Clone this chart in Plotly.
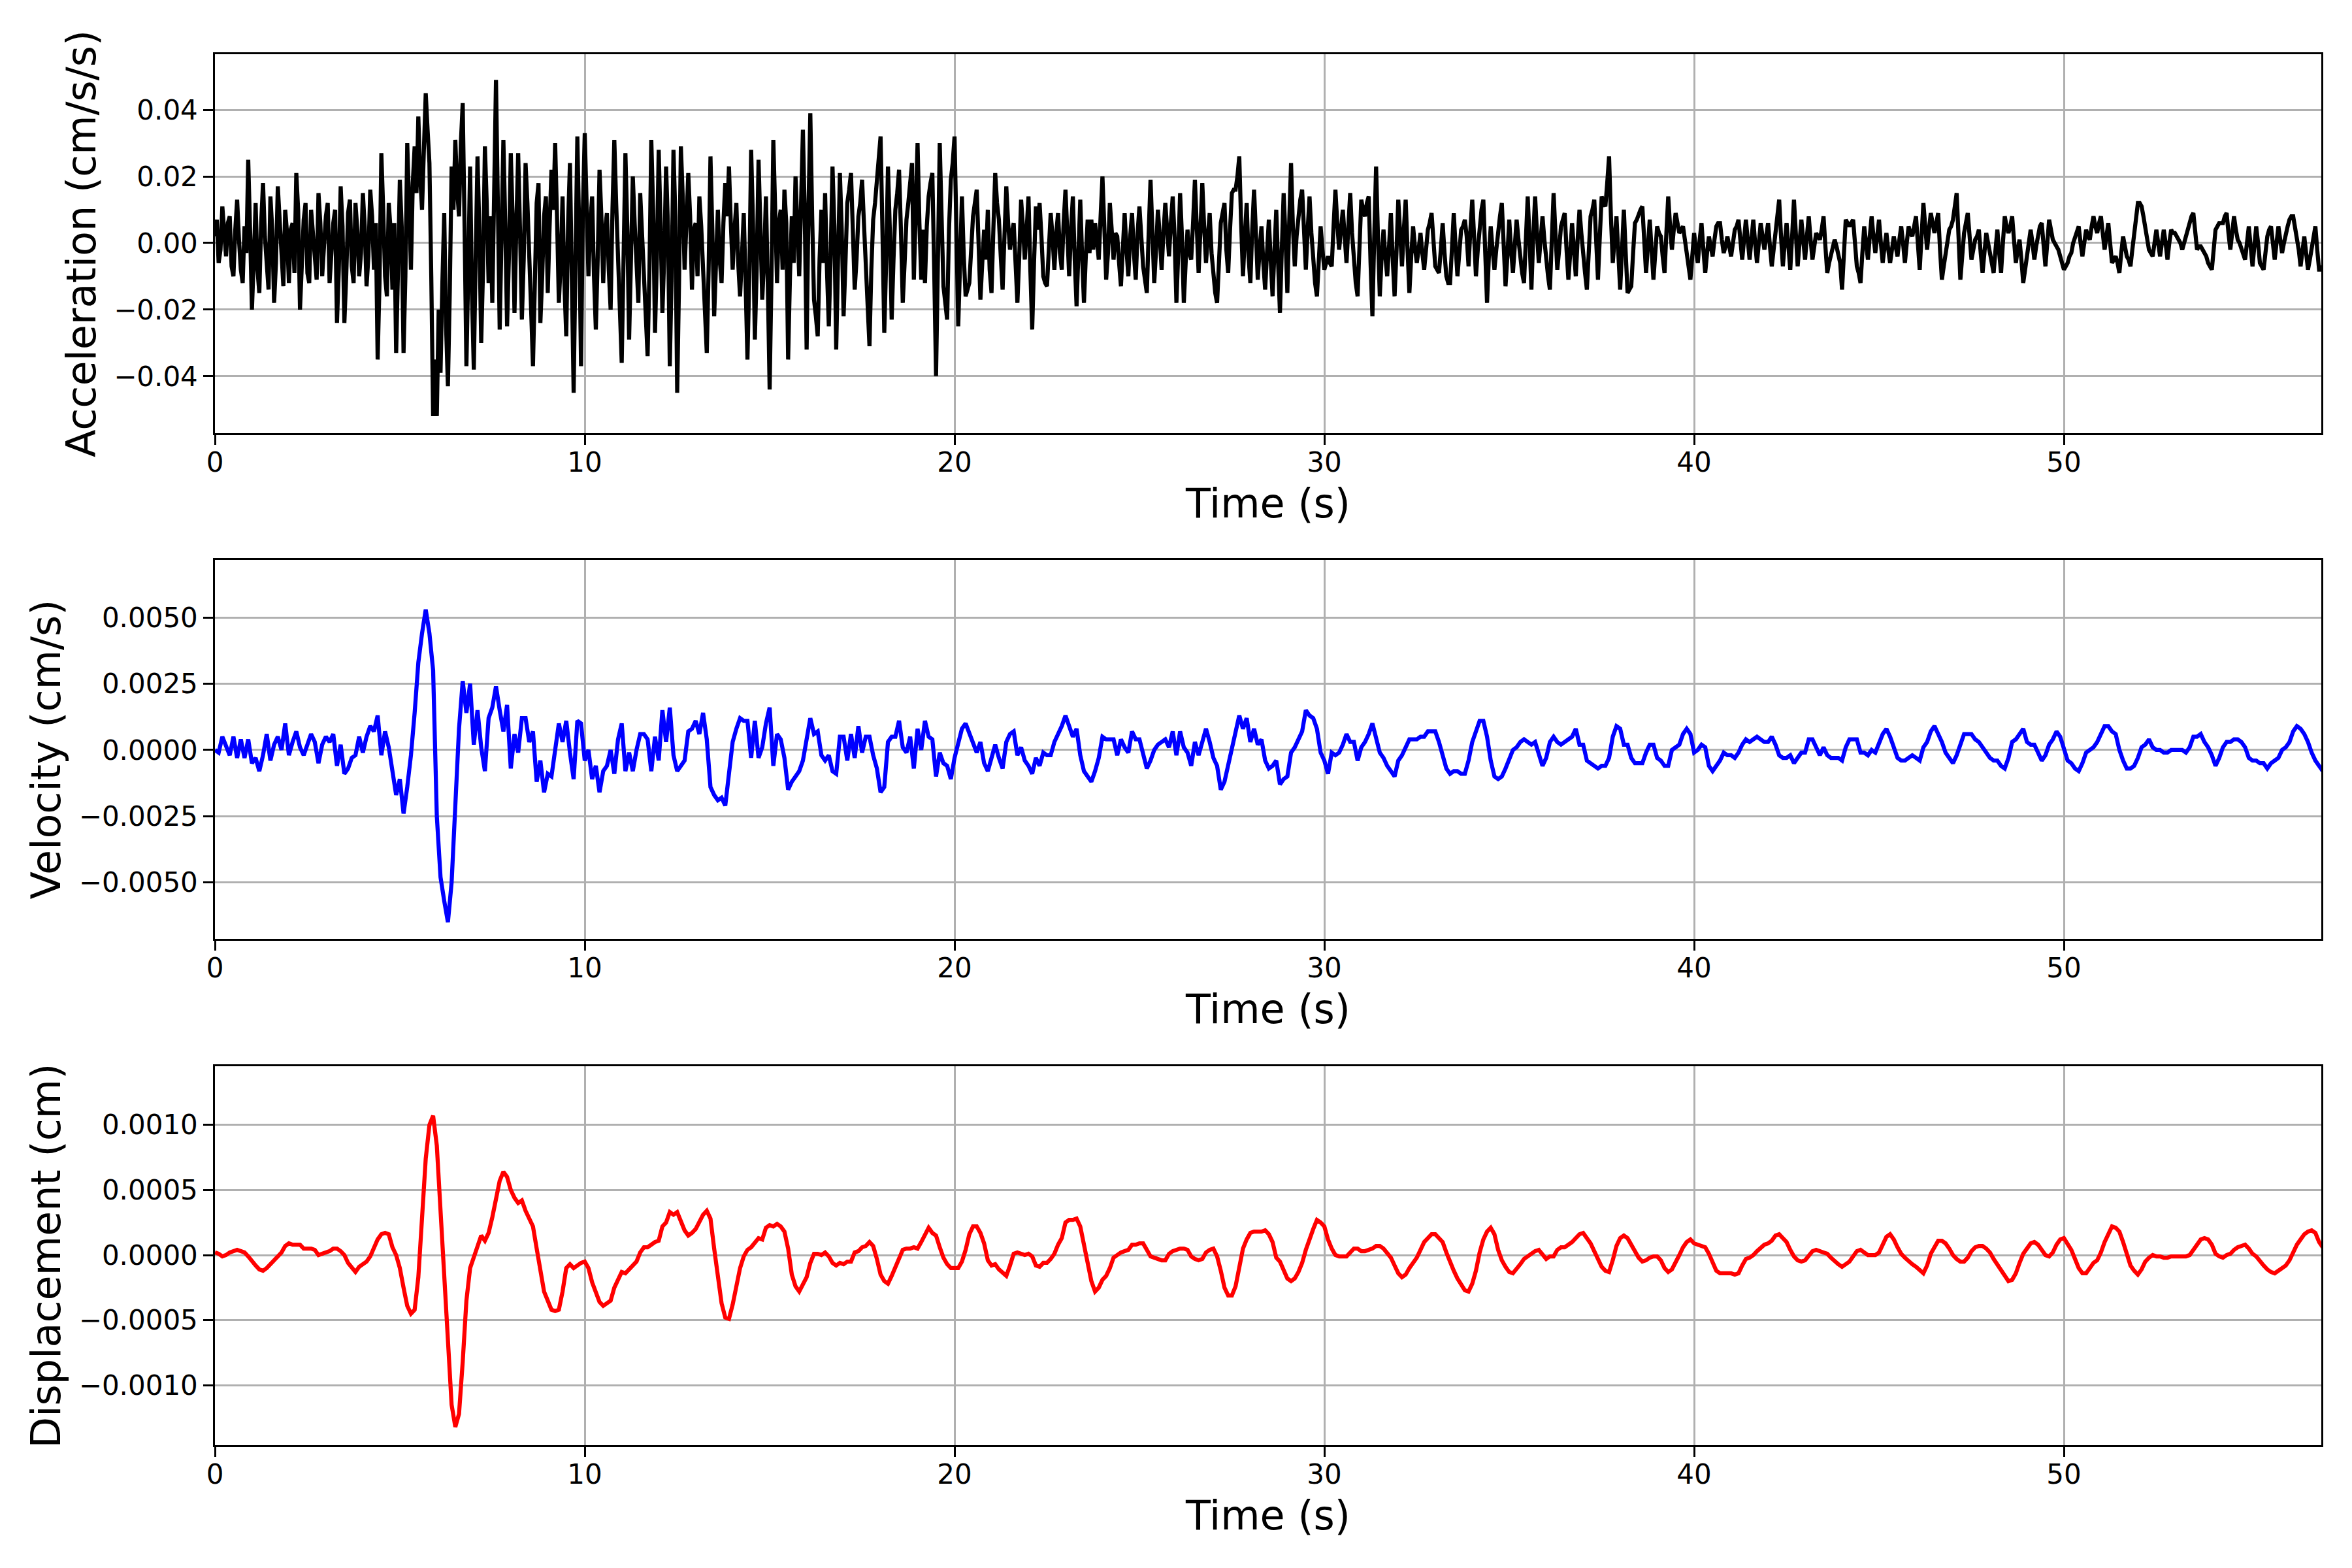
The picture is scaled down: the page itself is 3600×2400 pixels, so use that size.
import numpy as np
import plotly.graph_objects as go

# sampling steps of the traces (s)
DT_ACC = 0.05
DT = 0.1

# acceleration, in units of 0.001 cm/s/s, one row per second
acc_milli = [
    2, 7, -6, -2, 11, 3, -4, 6, 8, -7, -10, 4, 13, 1, -8, -12, 5, -3, 25, 4,
    -20, -5, 12, -8, -15, 6, 18, 2, -9, -14, 14, 4, -18, -6, 17, 5, -7, -13, 10, 3,
    -12, 4, 6, -9, 21, 10, -20, -4, 7, 12, -9, -12, 10, 3, -6, -11, 15, 6, -10, 2,
    8, 12, -12, -3, 6, 10, -24, -8, 17, 5, -24, -10, 9, 13, -7, -12, 12, 4, -10, -3,
    15, 5, -13, -4, 16, 8, -8, 6, -35, -12, 27, 10, -10, -16, 12, 4, -14, 6, -33, -8,
    19, 5, -33, -10, 30, 12, -8, 18, 29, 15, 38, 20, 10, 28, 45, 34, 24, -10, -52, -35,
    -52, -20, -39, -12, 9, -25, -43, -15, 23, 10, 31, 16, 8, 30, 42, 5, -37, -8, 23, -15,
    -38, -5, 26, 4, -30, -8, 29, 12, -12, 8, -18, 15, 49, 12, -26, 2, 31, 6, -25, -4,
    27, 8, -21, 5, 27, 4, -23, -5, 24, 12, -10, -20, -37, -15, 12, 18, -24, -10, 8, 14,
    -15, 5, 22, 10, 30, 8, -18, -6, 14, -12, -28, 6, 24, -10, -45, -5, 32, 4, -37, 10,
    33, 12, -10, 6, 14, -10, -26, -5, 22, 8, -12, 4, 9, -8, -20, 10, 31, 12, -8, -20,
    -36, -10, 27, 5, -29, -5, 20, 6, -10, -18, 15, 2, -14, -22, -34, -8, 31, 10, -27, -5,
    28, 6, -21, -4, 23, 5, -37, -10, 28, 8, -45, -12, 29, 14, -8, 6, 21, 8, -14, 4,
    6, -10, 14, 5, -10, -18, -33, -8, 26, 4, -22, -6, 10, -5, -12, 6, 18, 8, 23, 6,
    -8, 4, 12, -6, -16, -4, 9, -12, -35, -10, 28, 6, -29, -8, 25, 5, -17, -5, 14, -12,
    -44, -10, 31, 10, -12, 6, 10, -8, 16, 6, -35, -10, 8, -6, 20, 5, -10, 12, 34, 8,
    -32, 10, 39, 8, -17, -22, -28, -5, 10, -6, 15, -8, -25, -4, 23, 5, -32, -5, 21, 4,
    -22, -6, 12, 16, 21, 4, -14, -5, 8, 12, 19, 6, -6, -18, -31, -8, 7, 12, 18, 26,
    32, 4, -27, -6, 23, 4, -23, -5, 10, 15, 22, 4, -18, -6, 7, 12, 19, 24, -11, 8,
    30, 6, -11, 4, -12, 5, 14, 18, 21, -8, -40, -6, 30, 8, -13, -18, -23, 4, 19, 24,
    32, 5, -25, -6, 14, -4, -16, -14, -12, -2, 8, 12, 16, 0, -17, -6, 4, -5, 10, -8,
    -15, 4, 21, 12, 7, -4, -14, 2, 17, 6, -2, 3, 6, -6, -18, -4, 13, 5, -5, 4,
    14, -8, -26, -6, 11, 4, 12, 2, -10, -12, -13, -2, 9, 2, -8, 3, 9, -3, -8, 6,
    16, 3, -10, 4, 14, -5, -19, -3, 13, -4, -18, -4, 7, -3, 7, -2, 6, 1, -5, 8,
    20, 5, -11, -3, 12, 4, -5, 3, 2, -6, -13, -2, 9, -2, -10, 2, 9, -3, -11, 3,
    11, 2, -7, -11, -15, 3, 19, 4, -12, -2, 10, 2, -8, 3, 12, 4, -4, 6, 14, 2,
    -18, -3, 15, 2, -18, -6, 4, -3, -5, 6, 19, 5, -9, 4, 18, 5, -6, 2, 9, -3,
    -11, -15, -18, -4, 6, 9, 12, -2, -9, 4, 15, 16, 16, 20, 26, 6, -10, 2, 12, -4,
    -12, 4, 16, 3, -11, -2, 5, -6, -14, -3, 7, -5, -16, -3, 10, -6, -21, -2, 15, 2,
    -15, 6, 24, 5, -7, 2, 9, 13, 16, 3, -8, 4, 14, 3, -7, -12, -16, -4, 5, -2,
    -8, -6, -4, -6, -7, 5, 16, 6, -2, 4, 10, 2, -6, 5, 15, 3, -5, -12, -16, -2,
    13, 10, 8, 12, 14, -6, -22, 2, 23, 2, -16, -4, 4, -4, -10, -1, 9, -5, -16, -3,
    13, 3, -7, 4, 13, -2, -15, -4, 5, -1, -6, -2, 3, -3, -8, -2, 4, 6, 9, 1,
    -7, -8, -9, -2, 6, -3, -10, -12, -12, -2, 9, -1, -10, -3, 4, 5, 7, 2, -7, 4,
    13, 2, -10, -2, 6, 10, 13, -3, -18, -4, 5, -2, -8, -2, 4, 8, 12, -1, -13, -4,
    7, -2, -9, -1, 7, 1, -5, -9, -12, 2, 14, 1, -14, 2, 14, 3, -6, 1, 8, 1,
    -6, -10, -14, 2, 15, 3, -8, -2, 5, 7, 9, -2, -11, -3, 6, -2, -10, 1, 10, 3,
    -4, -9, -14, -2, 8, 10, 13, 1, -11, 2, 14, 12, 11, 18, 26, 8, -6, 1, 8, -3,
    -14, -2, 10, -3, -15, -14, -13, -3, 6, 7, 9, 10, 11, 1, -9, -1, 7, -2, -11, -3,
    5, 3, 2, -4, -9, 3, 14, 5, -2, 4, 9, 6, 3, 4, 5, 1, -4, -7, -11, -4,
    3, -2, -6, 1, 6, -2, -9, -3, 2, -1, -4, 1, 5, 6, 6, 1, -3, -1, 2, -1,
    -4, 0, 4, 5, 7, 1, -5, 1, 7, 1, -5, 1, 7, 0, -6, 0, 6, 2, -2, 2,
    6, -1, -7, -2, 3, 8, 13, 2, -7, 0, 6, -1, -8, 2, 13, 3, -7, 0, 7, 1,
    -5, 2, 8, 1, -5, -1, 3, 2, 1, 4, 8, -1, -9, -6, -4, -1, 1, -1, -3, -6,
    -14, -3, 7, 6, 5, 6, 7, 0, -7, -9, -12, -3, 5, 0, -5, 2, 8, 2, -3, 2,
    7, 0, -6, -1, 3, -2, -6, -2, 2, -1, -4, 1, 5, 0, -6, 0, 5, 3, 2, 5,
    8, 0, -8, 2, 12, 5, -2, 4, 9, 6, 3, 6, 9, -2, -11, -7, -3, 0, 4, 5,
    7, 11, 15, 2, -11, -4, 3, 6, 9, 2, -5, -2, 1, 2, 4, -3, -9, -3, 3, 0,
    -3, -6, -9, -2, 4, -3, -9, 0, 8, 5, 3, 5, 8, 1, -6, -2, 1, -5, -12, -8,
    -4, 0, 4, 0, -5, -1, 3, 5, 6, 0, -7, 0, 7, 4, 1, 0, -1, -2, -4, -6,
    -8, -7, -6, -4, -3, 0, 2, 3, 5, 0, -4, 0, 4, 2, 1, 5, 8, 5, 3, 6,
    8, 3, -2, 2, 6, 0, -6, -5, -4, -6, -9, -3, 2, -1, -4, -5, -7, -2, 3, 8,
    12, 12, 11, 8, 5, 2, -2, -3, -4, 0, 4, 0, -4, 0, 4, 0, -5, 0, 4, 3,
    3, 2, 1, 0, -2, 0, 3, 4, 6, 8, 9, 3, -2, -1, -1, -2, -3, -4, -6, -7,
    -8, -2, 4, 5, 6, 6, 6, 8, 9, 3, -2, 3, 8, 4, 1, 0, -2, -3, -5, 0,
    5, -1, -7, -1, 5, 0, -6, -7, -8, -3, 2, 4, 5, 0, -5, 0, 5, 1, -3, 0,
    3, 5, 7, 8, 8, 5, 2, -2, -7, -2, 2, -3, -8, -5, -2, 2, 5, -2, -8, -8,
    -7,
]

# velocity, in units of 0.0001 cm/s, one row per second
vel_e4 = [
    0, -1, 5, 1, -2, 5, -3, 4, -3, 4,
    -5, -3, -8, -2, 6, -4, 2, 5, 0, 10,
    -2, 3, 7, 1, -2, 2, 6, 3, -5, 2,
    5, 3, 6, -6, 2, -9, -7, -3, -2, 5,
    -1, 5, 9, 7, 13, -2, 7, 1, -9, -17,
    -11, -24, -14, -2, 14, 33, 44, 53, 44, 30,
    -25, -48, -57, -65, -50, -22, 8, 26, 14, 25,
    2, 15, 1, -8, 12, 16, 24, 15, 7, 17,
    -7, 6, -1, 12, 12, 3, 7, -12, -4, -16,
    -9, -10, 1, 10, 3, 11, -1, -11, 11, 10,
    -4, 0, -11, -6, -16, -8, -6, 0, -9, 4,
    10, -8, -1, -8, 0, 6, 6, 4, -8, 5,
    -4, 15, 3, 16, -2, -8, -6, -4, 7, 8,
    11, 6, 14, 4, -14, -17, -19, -18, -21, -10,
    3, 8, 12, 11, 11, -3, 11, -3, 1, 10,
    16, -6, 6, 4, -3, -15, -12, -10, -8, -4,
    5, 12, 6, 7, -2, -4, -2, -8, -9, 5,
    5, -4, 6, -3, 9, -1, 5, 5, -2, -7,
    -16, -14, 3, 5, 5, 11, 1, -1, 5, -7,
    8, 0, 11, 5, 4, -10, -1, -5, -6, -11,
    -3, 3, 8, 10, 6, 2, -1, 3, -5, -8,
    -3, 2, -3, -7, 3, 6, 7, -2, 1, -4,
    -6, -9, -3, -6, -1, -2, -2, 3, 6, 9,
    13, 9, 5, 8, -2, -8, -10, -12, -8, -3,
    5, 4, 4, 4, -2, 4, 1, -1, 7, 4,
    4, -2, -7, -4, 0, 2, 3, 4, 1, 7,
    -2, 7, 1, -1, -6, 3, -2, 3, 8, 3,
    -3, -6, -15, -12, -6, 0, 7, 13, 8, 12,
    3, 8, 2, 4, -4, -7, -6, -4, -13, -11,
    -10, -1, 1, 4, 7, 15, 13, 12, 8, -1,
    -4, -9, -1, -2, -1, 2, 6, 3, 3, -4,
    1, 3, 6, 10, 5, -1, -3, -6, -8, -10,
    -4, -2, 1, 4, 4, 4, 5, 5, 7, 7,
    7, 3, -2, -7, -9, -8, -8, -9, -9, -4,
    3, 7, 11, 11, 5, -4, -10, -11, -10, -7,
    -3, 0, 1, 3, 4, 3, 2, 3, -1, -6,
    -3, 3, 5, 3, 2, 3, 4, 5, 8, 2,
    2, -4, -5, -6, -7, -6, -6, -3, 5, 9,
    8, 2, 2, -3, -5, -5, -5, -1, 2, 2,
    -3, -4, -6, -6, 0, 1, 2, 6, 8, 6,
    -1, 0, 2, 1, -6, -8, -6, -4, -1, -2,
    -2, -3, -1, 2, 4, 3, 4, 5, 4, 3,
    3, 5, 2, -2, -3, -3, -2, -5, -3, -1,
    -1, 4, 4, 1, -2, 1, -2, -3, -3, -3,
    -4, 1, 4, 4, 4, -1, -1, -2, 0, -1,
    3, 6, 8, 5, 1, -3, -4, -4, -3, -2,
    -3, -4, 1, 3, 7, 9, 6, 3, -1, -3,
    -5, -2, 2, 6, 6, 6, 4, 3, 1, -1,
    -3, -4, -4, -6, -7, -3, 3, 4, 6, 8,
    3, 2, 2, -1, -4, -2, 2, 4, 7, 5,
    0, -4, -5, -7, -8, -5, -1, 0, 1, 3,
    6, 9, 9, 7, 6, 0, -4, -7, -7, -6,
    -3, 1, 2, 4, 1, 0, 0, -1, -1, 0,
    0, 0, 0, -1, 1, 5, 5, 6, 3, 1,
    -2, -6, -3, 1, 3, 3, 4, 4, 3, 1,
    -3, -4, -4, -5, -5, -7, -5, -4, -3, 0,
    1, 3, 7, 9, 8, 6, 3, -1, -4, -6,
    -8,
]

# displacement, in units of 0.00001 cm, one row per second
disp_e5 = [
    2, 1, -1, 0, 2, 3, 4, 3, 2, -1,
    -5, -8, -11, -12, -10, -7, -5, -1, 2, 7,
    9, 8, 8, 8, 5, 5, 5, 4, 0, 1,
    2, 3, 5, 5, 3, 0, -6, -10, -13, -9,
    -7, -5, -1, 6, 12, 16, 17, 16, 6, 0,
    -10, -25, -39, -45, -42, -17, 33, 74, 100, 107,
    84, 33, -20, -75, -115, -132, -122, -82, -35, -10,
    -1, 8, 15, 11, 17, 29, 45, 57, 64, 60,
    50, 44, 40, 42, 34, 28, 22, 5, -12, -28,
    -35, -42, -43, -42, -28, -10, -7, -10, -8, -6,
    -5, -10, -21, -29, -36, -39, -37, -35, -25, -18,
    -13, -14, -11, -8, -5, 2, 6, 6, 8, 10,
    11, 22, 25, 33, 31, 33, 26, 19, 15, 17,
    20, 25, 31, 34, 28, 5, -18, -37, -48, -49,
    -38, -22, -10, -1, 4, 6, 10, 13, 12, 21,
    23, 22, 24, 22, 18, 5, -15, -24, -28, -23,
    -17, -6, 1, 1, 0, 2, -1, -6, -8, -6,
    -7, -5, -5, 2, 3, 6, 7, 10, 7, -3,
    -15, -20, -22, -16, -9, -1, 4, 5, 5, 6,
    5, 10, 16, 21, 17, 15, 6, -2, -7, -10,
    -10, -10, -5, 4, 16, 22, 22, 17, 9, -4,
    -8, -7, -11, -14, -16, -8, 1, 2, 1, 0,
    1, -1, -8, -9, -6, -6, -3, 1, 8, 13,
    25, 27, 27, 28, 22, 8, -6, -20, -28, -25,
    -19, -16, -10, -2, 0, 2, 3, 4, 8, 8,
    9, 9, 4, -1, -2, -3, -4, -4, 1, 3,
    4, 5, 5, 4, -1, -3, -4, -3, 2, 4,
    5, -1, -12, -25, -31, -31, -24, -8, 5, 12,
    17, 18, 18, 18, 19, 16, 10, -2, -5, -12,
    -18, -20, -18, -13, -6, 4, 13, 20, 27, 25,
    22, 12, 5, 0, -1, -1, -1, 2, 5, 5,
    3, 3, 4, 5, 7, 7, 5, 2, -2, -8,
    -14, -17, -15, -10, -6, -2, 4, 10, 13, 16,
    16, 13, 10, 2, -6, -12, -18, -23, -27, -28,
    -22, -12, 2, 12, 18, 21, 16, 4, -4, -9,
    -13, -14, -11, -7, -3, -1, 1, 3, 4, 0,
    -3, -1, -1, 4, 6, 6, 8, 10, 13, 16,
    17, 13, 9, 3, -3, -9, -12, -13, -4, 7,
    13, 15, 13, 8, 2, -2, -5, -4, -2, -1,
    -1, -4, -10, -13, -11, -6, 0, 6, 10, 12,
    9, 8, 7, 6, 1, -6, -12, -14, -14, -14,
    -14, -15, -14, -8, -3, -2, 0, 3, 6, 8,
    9, 11, 15, 16, 13, 10, 4, -1, -4, -5,
    -4, 0, 3, 4, 3, 2, 1, -2, -5, -7,
    -9, -7, -5, -1, 3, 4, 2, 0, 0, 0,
    2, 8, 14, 16, 12, 6, 1, -2, -5, -7,
    -9, -12, -14, -8, 1, 6, 11, 11, 9, 5,
    0, -3, -5, -5, -2, 3, 6, 7, 7, 5,
    2, -3, -7, -11, -16, -20, -19, -14, -6, 1,
    5, 9, 10, 8, 4, 0, -1, 2, 8, 12,
    13, 9, 4, -3, -10, -14, -14, -10, -6, -4,
    2, 10, 16, 22, 21, 18, 10, 1, -8, -12,
    -15, -11, -5, -2, 0, -1, -1, -2, -2, -1,
    -1, -1, -1, -1, 0, 4, 9, 12, 13, 12,
    8, 1, -1, -2, 0, 1, 4, 6, 7, 8,
    5, 1, -1, -5, -8, -11, -13, -14, -12, -10,
    -8, -4, 2, 8, 12, 16, 18, 19, 17, 10,
    6,
]

acc = np.array(acc_milli) * 1e-3
vel = np.array(vel_e4) * 1e-4
disp = np.array(disp_e5) * 1e-5

FONT = "DejaVu Sans"
GRID = "#b0b0b0"

fig = go.Figure()
fig.add_trace(go.Scatter(x=np.arange(len(acc)) * DT_ACC, y=acc, mode="lines",
                         line=dict(color="black", width=6.25), xaxis="x", yaxis="y"))
fig.add_trace(go.Scatter(x=np.arange(len(vel)) * DT, y=vel, mode="lines",
                         line=dict(color="blue", width=6.25), xaxis="x2", yaxis="y2"))
fig.add_trace(go.Scatter(x=np.arange(len(disp)) * DT, y=disp, mode="lines",
                         line=dict(color="red", width=6.25), xaxis="x3", yaxis="y3"))

def xax(anchor):
    return dict(anchor=anchor, domain=[0, 1], range=[0, 56.96], tickvals=[0, 10, 20, 30, 40, 50],
                showgrid=True, gridcolor=GRID, gridwidth=3.3, zeroline=False,
                showline=True, mirror=True, linecolor="black", linewidth=3.3,
                ticks="outside", ticklen=14.6, tickwidth=3.3, tickcolor="black",
                ticklabelstandoff=-9,
                tickfont=dict(family=FONT, size=42, color="black"),
                title=dict(text="Time (s)", font=dict(family=FONT, size=62, color="black"), standoff=18))

def yax(anchor, dom, rng, dtick, fmt, label):
    return dict(anchor=anchor, domain=dom, range=rng, dtick=dtick, tick0=0, tickformat=fmt,
                showgrid=True, gridcolor=GRID, gridwidth=3.3, zeroline=False,
                showline=True, mirror=True, linecolor="black", linewidth=3.3,
                ticks="outside", ticklen=14.6, tickwidth=3.3, tickcolor="black",
                tickfont=dict(family=FONT, size=42, color="black"),
                title=dict(text=label, font=dict(family=FONT, size=62, color="black"), standoff=8))

# the page body adds an 8 px offset, so the margins are shifted to compensate
fig.update_layout(
    width=3600, height=2400,
    margin=dict(l=321, r=55, t=75, b=196),
    paper_bgcolor="white", plot_bgcolor="white",
    showlegend=False,
    xaxis=xax("y"),
    xaxis2=xax("y2"),
    xaxis3=xax("y3"),
    yaxis=yax("x", [0.7276, 1.0], [-0.0571, 0.0567], 0.02, ".2f", "Acceleration (cm/s/s)"),
    yaxis2=yax("x2", [0.3640, 0.6364], [-0.00713, 0.00717], 0.0025, ".4f", "Velocity (cm/s)"),
    yaxis3=yax("x3", [0.0, 0.2724], [-0.00146, 0.00145], 0.0005, ".4f", "Displacement (cm)"),
)

fig.write_html("out.html")
